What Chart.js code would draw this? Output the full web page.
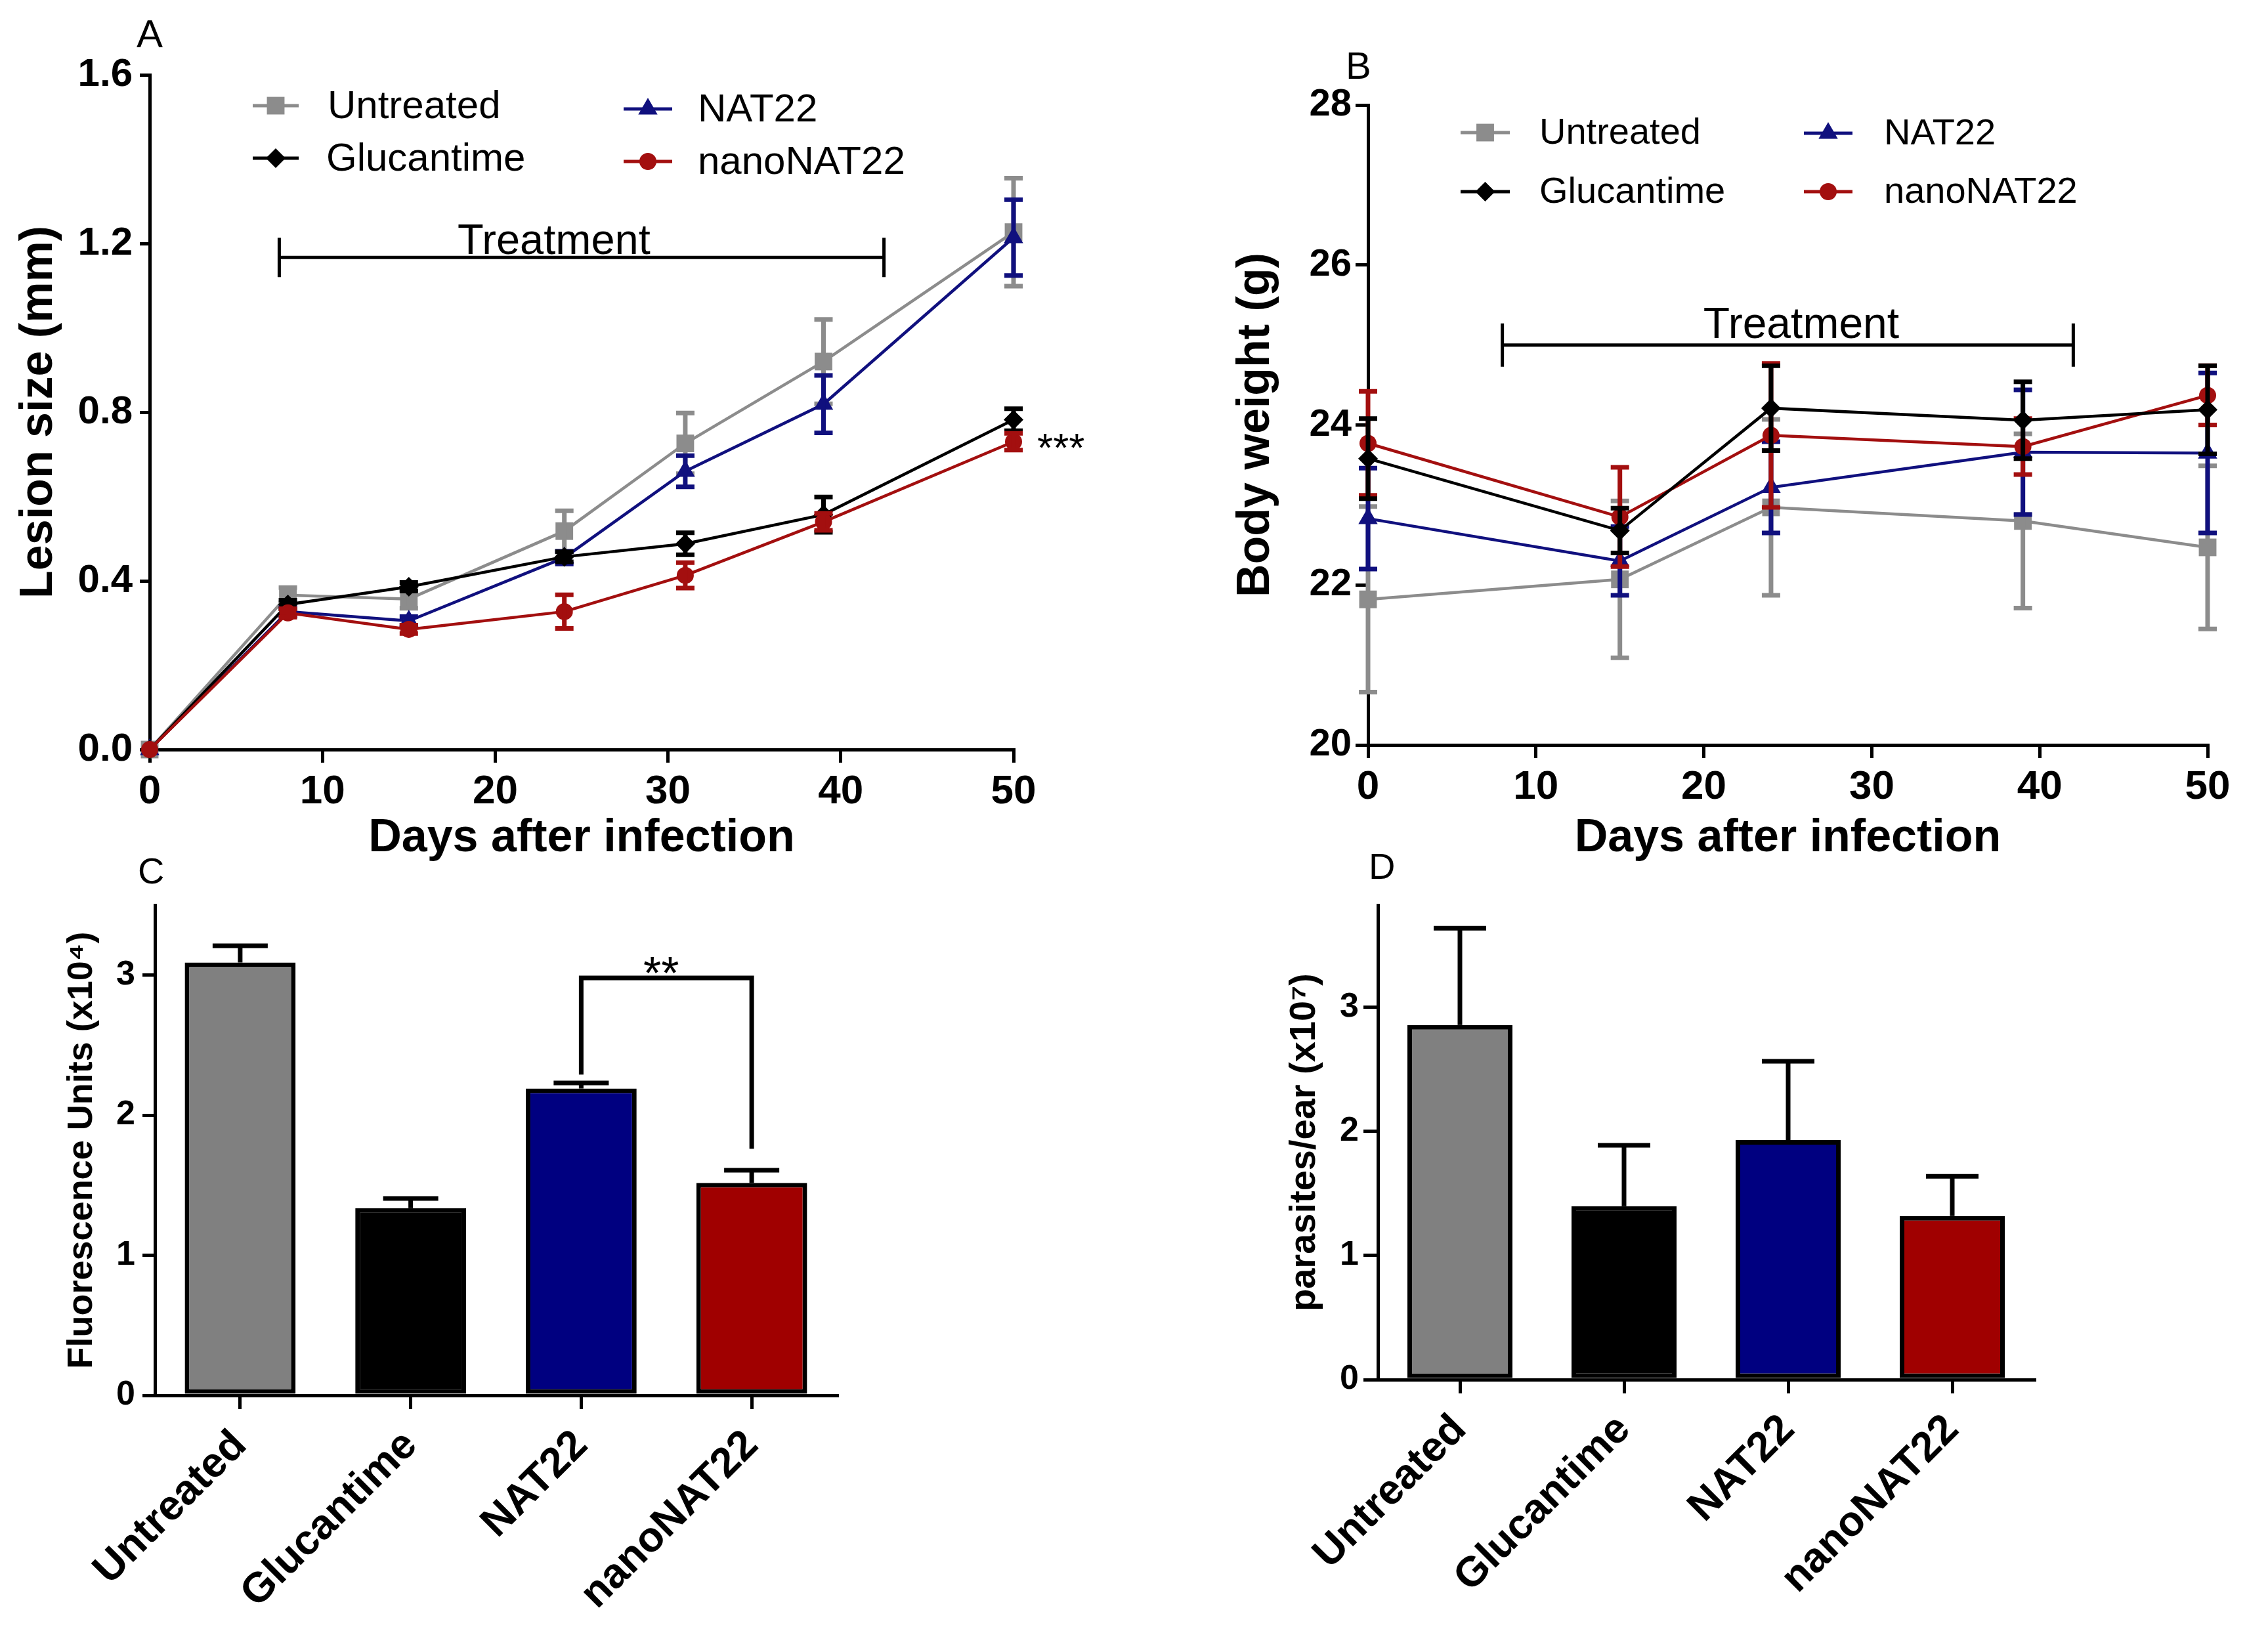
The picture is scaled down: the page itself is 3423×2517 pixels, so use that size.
<!DOCTYPE html>
<html>
<head>
<meta charset="utf-8">
<script src="https://cdn.jsdelivr.net/npm/chart.js@4.4.1/dist/chart.umd.min.js"></script>
<style>
html,body{margin:0;padding:0;background:#fff;}
body{width:3423px;height:2517px;position:relative;overflow:hidden;font-family:'Liberation Sans',Arial,Helvetica,sans-serif;}
canvas{position:absolute;}
.lbl{position:absolute;line-height:1;color:#000;font-family:'Liberation Sans',Arial,sans-serif;}
</style>
</head>
<body>
<div class="lbl" style="left:208px;top:22px;font-size:60px;">A</div>
<div class="lbl" style="left:2050px;top:71px;font-size:58px;">B</div>
<div class="lbl" style="left:210px;top:1299px;font-size:56px;">C</div>
<div class="lbl" style="left:2085px;top:1292px;font-size:56px;">D</div>

<canvas id="cA" width="1720" height="1330" style="left:0px;top:0px;width:1720px;height:1330px;"></canvas>
<canvas id="cB" width="1683" height="1330" style="left:1740px;top:0px;width:1683px;height:1330px;"></canvas>
<canvas id="cC" width="1720" height="1217" style="left:0px;top:1300px;width:1720px;height:1217px;"></canvas>
<canvas id="cD" width="1683" height="1217" style="left:1740px;top:1300px;width:1683px;height:1217px;"></canvas>

<script>
// ---------------- DATA ----------------
const groupNames = ['Untreated', 'Glucantime', 'NAT22', 'nanoNAT22'];

// Panel A: lesion size (mm)
const daysA = [0, 8, 15, 24, 31, 39, 50];
const lesionUntreated    = [0, 0.366, 0.357, 0.518, 0.726, 0.92, 1.227];
const lesionUntreatedErr = [0, 0.018, 0.022, 0.048, 0.072, 0.10, 0.128];
const lesionGlucantime    = [0, 0.344, 0.386, 0.457, 0.488, 0.557, 0.782];
const lesionGlucantimeErr = [0, 0.010, 0.010, 0.012, 0.026, 0.042, 0.026];
const lesionNAT22    = [0, 0.327, 0.305, 0.455, 0.66, 0.819, 1.214];
const lesionNAT22Err = [0, 0.010, 0.010, 0.015, 0.037, 0.068, 0.09];
const lesionNano    = [0, 0.324, 0.285, 0.327, 0.413, 0.54, 0.73];
const lesionNanoErr = [0, 0.010, 0.010, 0.040, 0.030, 0.020, 0.020];
const lesionTicks = [0, 0.4, 0.8, 1.2, 1.6];
const dayTicks = [0, 10, 20, 30, 40, 50];
const treatA = [7.5, 42.5];
const treatAY = 1.167;
const treatALabelDay = 23.4;

// Panel B: body weight (g)
const daysB = [0, 15, 24, 39, 50];
const bwUntreated    = [21.82, 22.07, 22.97, 22.80, 22.47];
const bwUntreatedErr = [1.16, 0.98, 1.10, 1.09, 1.02];
const bwGlucantime    = [23.58, 22.68, 24.21, 24.06, 24.19];
const bwGlucantimeErr = [0.50, 0.28, 0.53, 0.48, 0.55];
const bwNAT22    = [22.83, 22.30, 23.22, 23.66, 23.65];
const bwNAT22Err = [0.63, 0.43, 0.57, 0.78, 1.00];
const bwNano    = [23.77, 22.85, 23.87, 23.73, 24.37];
const bwNanoErr = [0.65, 0.62, 0.90, 0.35, 0.37];
const bwTicks = [20, 22, 24, 26, 28];
const treatB = [8, 42];
const treatBY = 25.0;
const treatBLabelDay = 25.8;

// Panel C: fluorescence units (x10^4)
const fluor    = [3.09, 1.336, 2.19, 1.517];
const fluorErr = [0.12, 0.07, 0.04, 0.09];
const fluorTicks = [0, 1, 2, 3];
const sigBracket = {left: 2, right: 3, leftLow: 2.29, top: 2.98, rightLow: 1.76};

// Panel D: parasites/ear (x10^7)
const parasites    = [2.854, 1.396, 1.928, 1.317];
const parasitesErr = [0.78, 0.49, 0.635, 0.32];
const parasiteTicks = [0, 1, 2, 3];

// ---------------- STYLE ----------------
const FONT = "'Liberation Sans', Arial, Helvetica, sans-serif";
Chart.defaults.font.family = FONT;
Chart.defaults.color = '#000';

const COLORS = {Untreated: '#8c8c8c', Glucantime: '#000000', NAT22: '#10107e', nanoNAT22: '#a30f0f'};
const MARK = {Untreated: ['rect', 19], Glucantime: ['rectRot', 15], NAT22: ['triangle', 17], nanoNAT22: ['circle', 13]};
const BAR_COLORS = ['#808080', '#000000', '#000080', '#a00000'];

function drawMarker(ctx, style, x, y, r, color) {
  ctx.fillStyle = color;
  ctx.beginPath();
  if (style === 'rect') {
    const s = r * Math.SQRT1_2;
    ctx.rect(x - s, y - s, 2 * s, 2 * s);
  } else if (style === 'rectRot') {
    ctx.moveTo(x - r, y); ctx.lineTo(x, y - r); ctx.lineTo(x + r, y); ctx.lineTo(x, y + r); ctx.closePath();
  } else if (style === 'triangle') {
    let a = 0;
    ctx.moveTo(x + Math.sin(a) * r, y - Math.cos(a) * r);
    a += 2 * Math.PI / 3; ctx.lineTo(x + Math.sin(a) * r, y - Math.cos(a) * r);
    a += 2 * Math.PI / 3; ctx.lineTo(x + Math.sin(a) * r, y - Math.cos(a) * r);
    ctx.closePath();
  } else {
    ctx.arc(x, y, r, 0, Math.PI * 2);
  }
  ctx.fill();
}

function drawLegend(ctx, items, fontSize) {
  ctx.save();
  ctx.font = fontSize + 'px ' + FONT;
  ctx.textBaseline = 'middle';
  ctx.textAlign = 'left';
  items.forEach(it => {
    const c = COLORS[it.name];
    ctx.strokeStyle = c; ctx.lineWidth = 5;
    ctx.beginPath(); ctx.moveTo(it.x0, it.y); ctx.lineTo(it.x1, it.y); ctx.stroke();
    drawMarker(ctx, MARK[it.name][0], (it.x0 + it.x1) / 2, it.y, MARK[it.name][1], c);
    ctx.fillStyle = '#000';
    ctx.fillText(it.name, it.tx, it.y + 2);
  });
  ctx.restore();
}

const errorBarPlugin = {
  id: 'errbars',
  afterDatasetDraw(chart, args, opts) {
    const ds = chart.data.datasets[args.index];
    if (!ds.errors) return;
    const ys = chart.scales.y, ctx = chart.ctx;
    ctx.save();
    ctx.strokeStyle = ds.errColor || ds.borderColor;
    ctx.lineWidth = opts.width;
    ctx.lineCap = 'butt';
    args.meta.data.forEach((el, i) => {
      const e = ds.errors[i];
      if (!e) return;
      const raw = ds.data[i];
      const v = (typeof raw === 'object') ? raw.y : raw;
      const x = el.x;
      const yTop = ys.getPixelForValue(v + e);
      const yBot = opts.upOnly ? ys.getPixelForValue(v) : ys.getPixelForValue(v - e);
      ctx.beginPath();
      ctx.moveTo(x, yBot); ctx.lineTo(x, yTop);
      ctx.moveTo(x - opts.cap, yTop); ctx.lineTo(x + opts.cap, yTop);
      if (!opts.upOnly) { ctx.moveTo(x - opts.cap, yBot); ctx.lineTo(x + opts.cap, yBot); }
      ctx.stroke();
    });
    ctx.restore();
  }
};

function axisLines(tickLen) {
  return {
    grid: {display: true, drawOnChartArea: false, drawTicks: true, tickLength: tickLen, color: '#000', lineWidth: 5, offset: false},
    border: {display: true, color: '#000', width: 5}
  };
}

function lineDS(name, days, vals, errs, order) {
  return {
    label: name,
    data: days.map((d, i) => ({x: d, y: vals[i]})),
    errors: errs,
    borderColor: COLORS[name],
    backgroundColor: COLORS[name],
    borderWidth: 4.5,
    pointStyle: MARK[name][0],
    pointRadius: MARK[name][1],
    pointHoverRadius: MARK[name][1],
    pointBorderWidth: 0,
    pointBackgroundColor: COLORS[name],
    tension: 0,
    clip: false,
    order: order
  };
}

function setTicks(list) { return s => { s.ticks = list.map(v => ({value: v})); }; }

function lineChartOptions(cfg) {
  return {
    responsive: false, animation: false, devicePixelRatio: 1,
    layout: {padding: cfg.pad},
    plugins: {legend: {display: false}, tooltip: {enabled: false}, errbars: {width: 7, cap: 14, upOnly: false}},
    scales: {
      x: Object.assign({
        type: 'linear', min: 0, max: 50,
        afterBuildTicks: setTicks(dayTicks),
        afterFit: s => { s.height = cfg.xH; },
        ticks: {font: {size: 62, weight: 'bold'}, padding: 8, color: '#000', maxRotation: 0},
        title: {display: true, text: 'Days after infection', font: {size: 70, weight: 'bold'}, color: '#000', padding: {top: 0, bottom: 10}}
      }, axisLines(20)),
      y: Object.assign({
        type: 'linear', min: cfg.ymin, max: cfg.ymax,
        afterBuildTicks: setTicks(cfg.yTicks),
        afterFit: s => { s.width = cfg.yW; },
        ticks: {font: {size: cfg.yTickSize, weight: 'bold'}, padding: cfg.yTickPad, color: '#000', callback: cfg.fmt},
        title: {display: true, text: cfg.yTitle, font: {size: 70, weight: 'bold'}, color: '#000', padding: {top: cfg.yTitlePad, bottom: 0}}
      }, axisLines(cfg.yTickLen))
    }
  };
}

// ---------------- PANEL A ----------------
const legendA = [
  {name: 'Untreated', x0: 385, x1: 455, tx: 499, y: 161},
  {name: 'Glucantime', x0: 385, x1: 455, tx: 497, y: 241},
  {name: 'NAT22', x0: 950, x1: 1024, tx: 1063, y: 166},
  {name: 'nanoNAT22', x0: 950, x1: 1024, tx: 1063, y: 246}
];
const annotA = {
  id: 'annotA',
  afterDraw(chart) {
    const {ctx, scales: {x, y}} = chart;
    drawLegend(ctx, legendA, 60);
    ctx.save();
    const x1 = x.getPixelForValue(treatA[0]), x2 = x.getPixelForValue(treatA[1]), yy = y.getPixelForValue(treatAY);
    ctx.strokeStyle = '#000'; ctx.lineWidth = 5;
    ctx.beginPath();
    ctx.moveTo(x1, yy); ctx.lineTo(x2, yy);
    ctx.moveTo(x1, yy - 30); ctx.lineTo(x1, yy + 30);
    ctx.moveTo(x2, yy - 30); ctx.lineTo(x2, yy + 30);
    ctx.stroke();
    ctx.fillStyle = '#000';
    ctx.font = '65px ' + FONT; ctx.textAlign = 'center'; ctx.textBaseline = 'alphabetic';
    ctx.fillText('Treatment', x.getPixelForValue(treatALabelDay), yy - 5);
    ctx.font = '62px ' + FONT; ctx.textAlign = 'left';
    ctx.fillText('***', x.getPixelForValue(daysA[daysA.length - 1]) + 36, y.getPixelForValue(lesionNano[lesionNano.length - 1]) + 30);
    ctx.restore();
  }
};
new Chart(document.getElementById('cA'), {
  type: 'line',
  data: {datasets: [
    lineDS('Untreated', daysA, lesionUntreated, lesionUntreatedErr, 4),
    lineDS('NAT22', daysA, lesionNAT22, lesionNAT22Err, 3),
    lineDS('Glucantime', daysA, lesionGlucantime, lesionGlucantimeErr, 2),
    lineDS('nanoNAT22', daysA, lesionNano, lesionNanoErr, 1)
  ]},
  options: lineChartOptions({
    pad: {top: 114, right: 176, bottom: 0, left: 0},
    xH: 188, yW: 228, ymin: 0, ymax: 1.6, yTicks: lesionTicks,
    yTickSize: 60, yTickPad: 11, yTickLen: 15,
    fmt: v => Number(v).toFixed(1), yTitle: 'Lesion size (mm)', yTitlePad: 18
  }),
  plugins: [errorBarPlugin, annotA]
});

// ---------------- PANEL B ----------------
const legendB = [
  {name: 'Untreated', x0: 485, x1: 560, tx: 605, y: 202},
  {name: 'Glucantime', x0: 485, x1: 560, tx: 605, y: 292},
  {name: 'NAT22', x0: 1008, x1: 1082, tx: 1130, y: 203},
  {name: 'nanoNAT22', x0: 1008, x1: 1082, tx: 1130, y: 292}
];
const annotB = {
  id: 'annotB',
  afterDraw(chart) {
    const {ctx, scales: {x, y}} = chart;
    drawLegend(ctx, legendB, 56);
    ctx.save();
    const x1 = x.getPixelForValue(treatB[0]), x2 = x.getPixelForValue(treatB[1]), yy = y.getPixelForValue(treatBY);
    ctx.strokeStyle = '#000'; ctx.lineWidth = 5;
    ctx.beginPath();
    ctx.moveTo(x1, yy); ctx.lineTo(x2, yy);
    ctx.moveTo(x1, yy - 33); ctx.lineTo(x1, yy + 33);
    ctx.moveTo(x2, yy - 33); ctx.lineTo(x2, yy + 33);
    ctx.stroke();
    ctx.fillStyle = '#000';
    ctx.font = '66px ' + FONT; ctx.textAlign = 'center'; ctx.textBaseline = 'alphabetic';
    ctx.fillText('Treatment', x.getPixelForValue(treatBLabelDay), yy - 11);
    ctx.restore();
  }
};
new Chart(document.getElementById('cB'), {
  type: 'line',
  data: {datasets: [
    lineDS('Untreated', daysB, bwUntreated, bwUntreatedErr, 4),
    lineDS('NAT22', daysB, bwNAT22, bwNAT22Err, 3),
    lineDS('nanoNAT22', daysB, bwNano, bwNanoErr, 2),
    lineDS('Glucantime', daysB, bwGlucantime, bwGlucantimeErr, 1)
  ]},
  options: lineChartOptions({
    pad: {top: 160, right: 60, bottom: 0, left: 0},
    xH: 195, yW: 344, ymin: 20, ymax: 28, yTicks: bwTicks,
    yTickSize: 58, yTickPad: 6, yTickLen: 19,
    fmt: v => String(v), yTitle: 'Body weight (g)', yTitlePad: 132
  }),
  plugins: [errorBarPlugin, annotB]
});

// ---------------- BAR PANELS ----------------
function barOptions(cfg) {
  return {
    responsive: false, animation: false, devicePixelRatio: 1,
    layout: {padding: cfg.pad},
    plugins: {legend: {display: false}, tooltip: {enabled: false}, errbars: {width: 7, cap: cfg.cap, upOnly: true}},
    scales: {
      x: Object.assign({
        type: 'category', offset: true,
        afterFit: s => { s.height = cfg.xH; },
        ticks: {font: {size: 64, weight: 'bold'}, padding: 18, color: '#000', minRotation: 45, maxRotation: 45, autoSkip: false}
      }, axisLines(21)),
      y: Object.assign({
        type: 'linear', min: 0, max: cfg.ymax,
        afterBuildTicks: setTicks(cfg.yTicks),
        afterFit: s => { s.width = cfg.yW; },
        ticks: {font: {size: 52, weight: 'bold'}, padding: cfg.yTickPad, color: '#000', callback: v => String(v)},
        title: {display: true, text: cfg.yTitle, font: {size: cfg.yTitleSize, weight: 'bold'}, color: '#000', padding: {top: cfg.yTitlePad, bottom: 0}}
      }, axisLines(cfg.yTickLen))
    }
  };
}

const annotC = {
  id: 'annotC',
  afterDraw(chart) {
    const {ctx, scales: {x, y}} = chart;
    const xl = x.getPixelForValue(sigBracket.left), xr = x.getPixelForValue(sigBracket.right);
    const yt = y.getPixelForValue(sigBracket.top);
    ctx.save();
    ctx.strokeStyle = '#000'; ctx.lineWidth = 7; ctx.lineJoin = 'miter';
    ctx.beginPath();
    ctx.moveTo(xl, y.getPixelForValue(sigBracket.leftLow));
    ctx.lineTo(xl, yt); ctx.lineTo(xr, yt);
    ctx.lineTo(xr, y.getPixelForValue(sigBracket.rightLow));
    ctx.stroke();
    ctx.fillStyle = '#000';
    ctx.font = '70px ' + FONT; ctx.textAlign = 'center'; ctx.textBaseline = 'alphabetic';
    ctx.fillText('**', (xl + xr) / 2 - 8, yt + 17);
    ctx.restore();
  }
};

new Chart(document.getElementById('cC'), {
  type: 'bar',
  data: {labels: groupNames, datasets: [{
    data: fluor, errors: fluorErr, errColor: '#000',
    backgroundColor: BAR_COLORS, borderColor: '#000', borderWidth: 7, borderSkipped: false,
    barPercentage: 0.65, categoryPercentage: 1
  }]},
  options: barOptions({
    pad: {top: 79, right: 445, bottom: 0, left: 0},
    xH: 391, yW: 236, ymax: 3.5, yTicks: fluorTicks, yTickPad: 11, yTickLen: 19, cap: 42,
    yTitle: 'Fluorescence Units (x10\u2074)', yTitleSize: 54, yTitlePad: 93
  }),
  plugins: [errorBarPlugin, annotC]
});

new Chart(document.getElementById('cD'), {
  type: 'bar',
  data: {labels: groupNames, datasets: [{
    data: parasites, errors: parasitesErr, errColor: '#000',
    backgroundColor: BAR_COLORS, borderColor: '#000', borderWidth: 7, borderSkipped: false,
    barPercentage: 0.64, categoryPercentage: 1
  }]},
  options: barOptions({
    pad: {top: 79, right: 324, bottom: 0, left: 0},
    xH: 415, yW: 359, ymax: 3.82, yTicks: parasiteTicks, yTickPad: 7, yTickLen: 22, cap: 40,
    yTitle: 'parasites/ear (x10\u2077)', yTitleSize: 56, yTitlePad: 214
  }),
  plugins: [errorBarPlugin]
});
</script>
</body>
</html>
